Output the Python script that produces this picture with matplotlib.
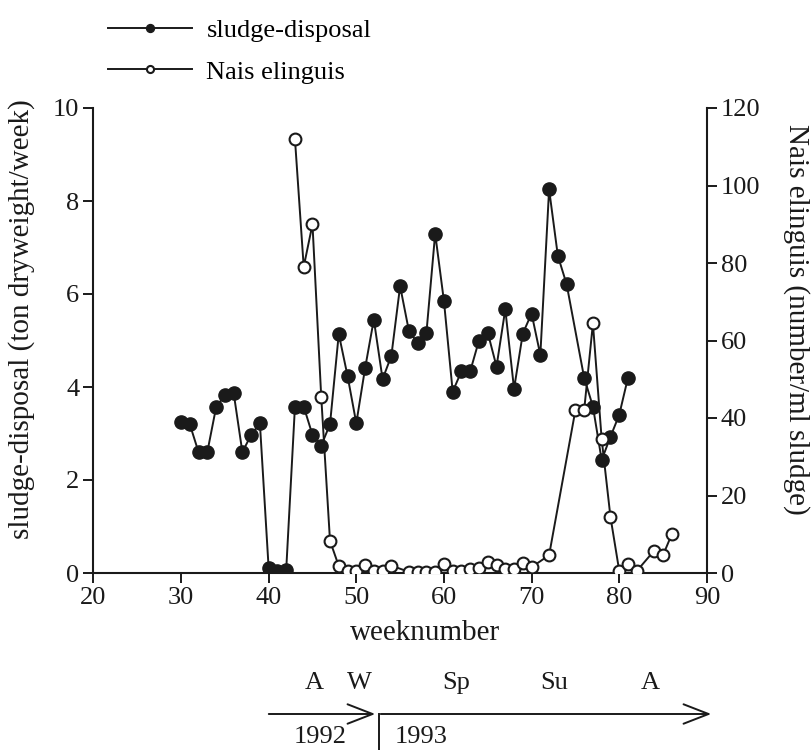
import matplotlib
matplotlib.use("Agg")
import matplotlib.pyplot as plt
import numpy as np

plt.rcParams['font.family'] = ['Liberation Serif', 'DejaVu Serif']

sludge_weeks = [30, 31, 32, 33, 34, 35, 36, 37, 38, 39, 40, 41, 42, 43, 44, 45, 46, 47,
                48, 49, 50, 51, 52, 53, 54, 55, 56, 57, 58, 59, 60, 61, 62, 63, 64, 65,
                66, 67, 68, 69, 70, 71, 72, 73, 74, 76, 77, 78, 79, 80, 81]
sludge_values = [3.25, 3.2, 2.6, 2.6, 3.56, 3.83, 3.88, 2.6, 2.97, 3.22, 0.1, 0.04, 0.06,
                 3.58, 3.58, 2.97, 2.74, 3.2, 5.14, 4.24, 3.22, 4.4, 5.45, 4.17, 4.67,
                 6.17, 5.21, 4.94, 5.16, 7.3, 5.85, 3.9, 4.34, 4.34, 5.0, 5.17, 4.44,
                 5.67, 3.96, 5.15, 5.58, 4.69, 8.25, 6.82, 6.21, 4.2, 3.58, 2.43, 2.93,
                 3.4, 4.2]

nais_weeks = [43, 44, 45, 46, 47, 48, 49, 50, 51, 52, 53, 54, 56, 57, 58, 59, 60, 61, 62,
              63, 64, 65, 66, 67, 68, 69, 70, 72, 75, 76, 77, 78, 79, 80, 81, 82, 84, 85, 86]
nais_values = [112, 79, 90, 45.4, 8.3, 1.8, 0.5, 0.5, 2.0, 0.5, 0.5, 1.9, 0.3, 0.3, 0.3,
               0.3, 2.2, 0.5, 0.5, 1.0, 1.2, 2.8, 2.0, 1.0, 1.0, 2.5, 1.5, 4.6, 42, 42,
               64.4, 34.5, 14.5, 0.6, 2.3, 0.5, 5.8, 4.6, 10]

x_ticks = [20, 30, 40, 50, 60, 70, 80, 90]
left_ticks = [0, 2, 4, 6, 8, 10]
right_ticks = [0, 20, 40, 60, 80, 100, 120]

season_labels = ["A", "W", "Sp", "Su", "A"]
season_weeks = [45.2, 50.4, 61.4, 72.6, 83.5]
year_labels = ["1992", "1993"]

ink = "#1a1a1a"
fs = 19
fs_lab = 21

fig = plt.figure(figsize=(8.12, 7.5), dpi=100)
ax = fig.add_axes([0.115, 0.236, 0.7555, 0.62])
ax2 = ax.twinx()

l1, = ax.plot(sludge_weeks, sludge_values, color=ink, lw=1.4, marker='o', ms=9.5,
              mfc=ink, mec=ink, zorder=3, label='sludge-disposal')
l2, = ax2.plot(nais_weeks, nais_values, color=ink, lw=1.4, marker='o', ms=8.5,
               mfc='white', mec=ink, mew=1.5, zorder=3, label='Nais elinguis')

ax.set_xlim(20, 90)
ax.set_ylim(0, 10)
ax2.set_ylim(0, 120)
ax.set_xticks(x_ticks)
ax.set_yticks(left_ticks)
ax2.set_yticks(right_ticks)

for a in (ax, ax2):
    a.spines['top'].set_visible(False)
    for s in a.spines.values():
        s.set_linewidth(1.5)
        s.set_color(ink)
ax.spines['right'].set_visible(False)
ax2.spines['left'].set_visible(False)
ax2.spines['bottom'].set_visible(False)

ax.tick_params(axis='both', direction='out', length=7, width=1.4, colors=ink,
               labelsize=fs, pad=3)
ax2.tick_params(axis='y', direction='out', length=7, width=1.4, colors=ink,
                labelsize=fs, pad=3)

ax.set_xlabel("weeknumber", fontsize=fs_lab, color=ink, labelpad=8)
ax.xaxis.label.set_x(0.54)
ax.set_ylabel("sludge-disposal (ton dryweight/week)", fontsize=fs_lab, color=ink, labelpad=13)
ax.yaxis.label.set_y(0.545)
ax2.set_ylabel("Nais elinguis (number/ml sludge)", fontsize=fs_lab, color=ink,
               rotation=270, labelpad=36)
ax2.yaxis.label.set_y(0.545)

# legend
fig.legend(handles=[l1, l2], loc='upper left', bbox_to_anchor=(0.1037, 1.007),
           frameon=False, fontsize=fs, handlelength=3.2, numpoints=1,
           markerscale=0.6, handletextpad=0.53, labelspacing=0.69)

# season annotation
for lab, wk in zip(season_labels, season_weeks):
    x_fig = fig.transFigure.inverted().transform(ax.transData.transform((wk, 0)))[0]
    fig.text(x_fig, 1 - 683 / 750, lab, ha='center', va='center', fontsize=fs, color=ink)

y_arrow = 1 - 714 / 750
fig.add_artist(matplotlib.patches.FancyArrowPatch((266 / 812, y_arrow), (378 / 812, y_arrow),
               transform=fig.transFigure, arrowstyle='->,head_length=0.9,head_width=0.35',
               lw=1.4, color=ink, mutation_scale=20))
fig.add_artist(matplotlib.patches.FancyArrowPatch((378 / 812, y_arrow), (714 / 812, y_arrow),
               transform=fig.transFigure, arrowstyle='->,head_length=0.9,head_width=0.35',
               lw=1.4, color=ink, mutation_scale=20))
fig.add_artist(matplotlib.lines.Line2D([379 / 812, 379 / 812], [y_arrow, 0.0],
               transform=fig.transFigure, lw=1.4, color=ink))
fig.text(320 / 812, 1 - 737 / 750, year_labels[0], ha='center', va='center', fontsize=fs, color=ink)
fig.text(421 / 812, 1 - 737 / 750, year_labels[1], ha='center', va='center', fontsize=fs, color=ink)

fig.savefig("out.png", dpi=100)
